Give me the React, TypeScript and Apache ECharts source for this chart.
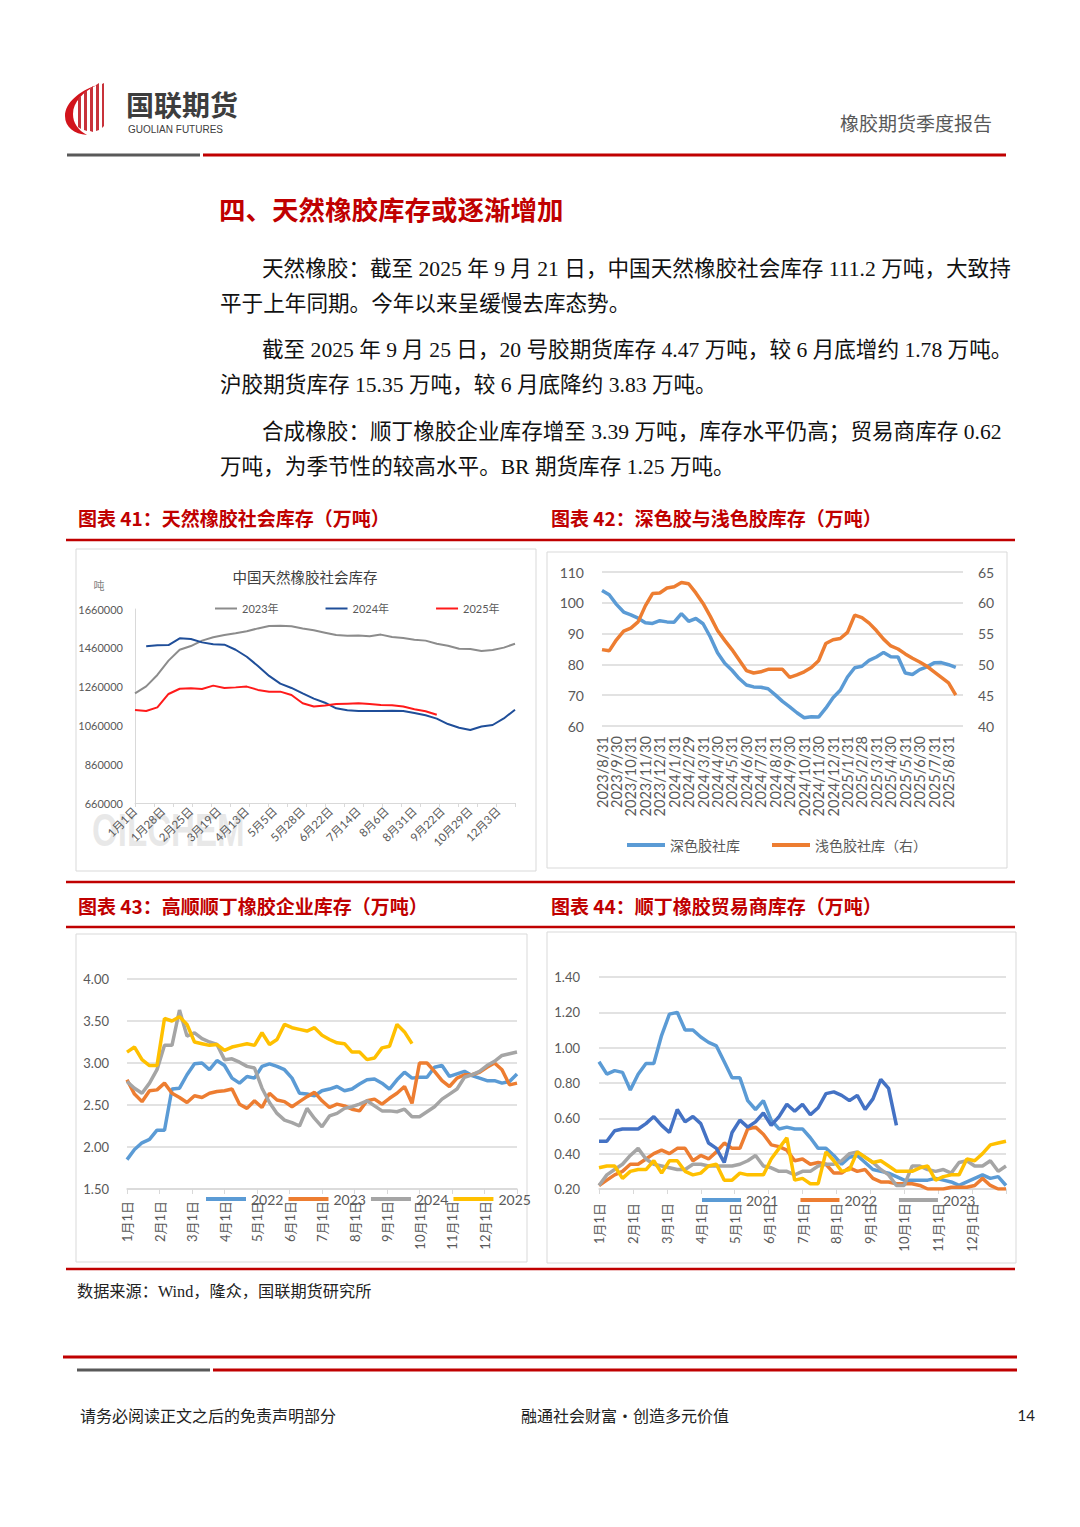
import React, { useEffect, useRef } from 'react';
import * as echarts from 'echarts';

// ---------- Chart 41: 中国天然橡胶社会库存 (吨), x index step 2 ----------
const labels41 = ['1月1日', '1月28日', '2月25日', '3月19日', '4月13日', '5月5日', '5月28日', '6月22日', '7月14日', '8月6日', '8月31日', '9月22日', '10月29日', '12月3日'];
const stock2023 = [1225000, 1261000, 1320000, 1394000, 1450000, 1469000, 1497000, 1514000, 1526000, 1535000, 1545000, 1560000, 1572000, 1574000, 1571000, 1559000, 1550000, 1538000, 1526000, 1522000, 1524000, 1519000, 1528000, 1516000, 1510000, 1502000, 1497000, 1481000, 1471000, 1455000, 1454000, 1443000, 1449000, 1461000, 1481000];
const stock2024 = [null, 1468000, 1473000, 1474000, 1509000, 1505000, 1488000, 1478000, 1476000, 1450000, 1414000, 1366000, 1315000, 1275000, 1253000, 1225000, 1198000, 1177000, 1148000, 1138000, 1134000, 1134000, 1134000, 1135000, 1134000, 1124000, 1112000, 1095000, 1067000, 1048000, 1036000, 1054000, 1062000, 1096000, 1141000];
const stock2025 = [1139000, 1134000, 1153000, 1222000, 1249000, 1251000, 1248000, 1265000, 1253000, 1256000, 1260000, 1243000, 1234000, 1234000, 1217000, 1174000, 1157000, 1162000, 1170000, 1172000, 1174000, 1170000, 1165000, 1164000, 1157000, 1143000, 1133000, 1115000];

// ---------- Chart 42: 深色胶 / 浅色胶 (half-month steps) ----------
const labels42 = ['2023/8/31', '2023/9/30', '2023/10/31', '2023/11/30', '2023/12/31', '2024/1/31', '2024/2/29', '2024/3/31', '2024/4/30', '2024/5/31', '2024/6/30', '2024/7/31', '2024/8/31', '2024/9/30', '2024/10/31', '2024/11/30', '2024/12/31', '2025/1/31', '2025/2/28', '2025/3/31', '2025/4/30', '2025/5/31', '2025/6/30', '2025/7/31', '2025/8/31'];
const darkStock = [104.0, 102.6, 99.5, 97.0, 96.1, 95.0, 93.5, 93.3, 94.2, 93.8, 93.7, 96.5, 94.0, 94.9, 93.2, 88.9, 83.8, 80.4, 78.1, 75.4, 73.3, 72.7, 72.6, 72.1, 70.1, 68.0, 66.2, 64.3, 62.7, 63.0, 62.9, 65.8, 69.2, 71.6, 75.9, 78.9, 79.4, 81.3, 82.4, 83.9, 82.5, 82.4, 77.2, 76.7, 78.3, 79.2, 80.5, 80.6, 79.9, 79.0];
const lightStock = [52.4, 52.2, 54.0, 55.4, 55.9, 56.9, 59.5, 61.5, 61.6, 62.4, 62.6, 63.3, 63.1, 61.6, 59.9, 57.8, 55.5, 53.9, 52.4, 50.7, 49.0, 48.6, 48.8, 49.2, 49.2, 49.2, 47.9, 48.3, 48.8, 49.5, 50.6, 53.4, 54.0, 54.2, 55.2, 58.0, 57.6, 56.7, 55.5, 54.1, 53.0, 52.5, 51.7, 51.0, 50.4, 49.7, 48.8, 47.9, 47.0, 45.0];

// ---------- shared month ticks for charts 43 / 44 ----------
const monthLabels = ['1月1日', '2月1日', '3月1日', '4月1日', '5月1日', '6月1日', '7月1日', '8月1日', '9月1日', '10月1日', '11月1日', '12月1日', ''];

// ---------- Chart 43: 高顺顺丁橡胶企业库存 (weekly) ----------
const br2022 = [1.85, 1.97, 2.05, 2.09, 2.20, 2.20, 2.69, 2.70, 2.86, 2.99, 3.00, 2.92, 3.03, 2.97, 2.82, 2.76, 2.84, 2.82, 2.96, 2.99, 2.96, 2.92, 2.82, 2.64, 2.63, 2.61, 2.67, 2.69, 2.72, 2.67, 2.69, 2.75, 2.80, 2.81, 2.76, 2.69, 2.80, 2.89, 2.82, 2.83, 2.83, 2.95, 2.97, 2.84, 2.87, 2.90, 2.85, 2.82, 2.79, 2.79, 2.76, 2.78, 2.87];
const br2023 = [2.80, 2.63, 2.54, 2.67, 2.68, 2.76, 2.64, 2.59, 2.53, 2.61, 2.59, 2.64, 2.66, 2.67, 2.69, 2.51, 2.46, 2.55, 2.47, 2.64, 2.56, 2.54, 2.48, 2.54, 2.60, 2.65, 2.55, 2.47, 2.51, 2.49, 2.45, 2.43, 2.55, 2.57, 2.51, 2.58, 2.64, 2.72, 2.52, 3.00, 3.00, 2.90, 2.79, 2.72, 2.82, 2.86, 2.86, 2.89, 2.95, 3.00, 2.92, 2.74, 2.76];
const br2024 = [2.78, 2.70, 2.64, 2.76, 2.92, 3.21, 3.21, 3.63, 3.32, 3.36, 3.29, 3.25, 3.22, 3.04, 3.05, 3.01, 2.96, 2.94, 2.70, 2.53, 2.40, 2.32, 2.29, 2.25, 2.46, 2.34, 2.24, 2.37, 2.40, 2.46, 2.48, 2.51, 2.55, 2.49, 2.43, 2.43, 2.42, 2.45, 2.36, 2.36, 2.42, 2.48, 2.57, 2.63, 2.69, 2.83, 2.86, 2.90, 2.97, 3.02, 3.09, 3.11, 3.13];
const br2025 = [3.13, 3.19, 3.04, 2.97, 2.97, 3.53, 3.50, 3.55, 3.46, 3.25, 3.23, 3.21, 3.22, 3.15, 3.19, 3.21, 3.23, 3.21, 3.36, 3.22, 3.28, 3.46, 3.42, 3.40, 3.38, 3.42, 3.33, 3.28, 3.24, 3.23, 3.13, 3.13, 3.04, 3.06, 3.18, 3.20, 3.46, 3.37, 3.23];

// ---------- Chart 44: 顺丁橡胶贸易商库存 (weekly) ----------
const tr2021 = [0.92, 0.85, 0.87, 0.86, 0.76, 0.85, 0.91, 0.91, 1.07, 1.19, 1.20, 1.10, 1.10, 1.06, 1.03, 1.01, 0.92, 0.83, 0.83, 0.70, 0.65, 0.70, 0.59, 0.54, 0.55, 0.54, 0.54, 0.49, 0.43, 0.43, 0.39, 0.34, 0.38, 0.39, 0.35, 0.31, 0.30, 0.29, 0.27, 0.25, 0.25, 0.25, 0.25, 0.26, 0.25, 0.24, 0.22, 0.24, 0.26, 0.28, 0.26, 0.27, 0.22];
const tr2022 = [0.22, 0.25, 0.28, 0.30, 0.34, 0.34, 0.37, 0.40, 0.42, 0.40, 0.43, 0.43, 0.36, 0.39, 0.37, 0.41, 0.46, 0.43, 0.43, 0.54, 0.55, 0.51, 0.45, 0.44, 0.42, 0.36, 0.37, 0.34, 0.35, 0.34, 0.29, 0.29, 0.32, 0.30, 0.31, 0.26, 0.24, 0.24, 0.23, 0.23, 0.23, 0.22, 0.20, 0.20, 0.20, 0.21, 0.21, 0.21, 0.22, 0.26, 0.22, 0.20, 0.20];
const tr2023 = [0.22, 0.28, 0.31, 0.34, 0.39, 0.43, 0.37, 0.34, 0.33, 0.32, 0.31, 0.31, 0.34, 0.34, 0.33, 0.33, 0.33, 0.33, 0.34, 0.36, 0.39, 0.33, 0.32, 0.30, 0.30, 0.28, 0.30, 0.30, 0.33, 0.34, 0.34, 0.36, 0.40, 0.41, 0.38, 0.35, 0.31, 0.28, 0.22, 0.22, 0.33, 0.33, 0.31, 0.30, 0.31, 0.29, 0.35, 0.36, 0.33, 0.33, 0.36, 0.30, 0.33];
const tr2024 = [0.32, 0.33, 0.33, 0.26, 0.30, 0.31, 0.31, 0.36, 0.29, 0.36, 0.36, 0.30, 0.28, 0.29, 0.33, 0.34, 0.25, 0.25, 0.29, 0.28, 0.28, 0.28, 0.37, 0.43, 0.49, 0.25, 0.26, 0.23, 0.23, 0.41, 0.36, 0.30, 0.31, 0.41, 0.38, 0.35, 0.36, 0.33, 0.30, 0.30, 0.30, 0.32, 0.33, 0.25, 0.27, 0.28, 0.28, 0.37, 0.36, 0.40, 0.45, 0.46, 0.47];
const tr2025 = [0.47, 0.47, 0.53, 0.54, 0.54, 0.54, 0.57, 0.61, 0.56, 0.52, 0.65, 0.58, 0.61, 0.57, 0.46, 0.43, 0.35, 0.52, 0.59, 0.55, 0.58, 0.63, 0.56, 0.61, 0.68, 0.64, 0.68, 0.62, 0.66, 0.74, 0.75, 0.73, 0.70, 0.73, 0.65, 0.71, 0.82, 0.77, 0.56];

// ---------- page text ----------
const paraLines = [
  { t: '天然橡胶：截至 2025 年 9 月 21 日，中国天然橡胶社会库存 111.2 万吨，大致持', x: 262, y: 269 },
  { t: '平于上年同期。今年以来呈缓慢去库态势。', x: 220, y: 304 },
  { t: '截至 2025 年 9 月 25 日，20 号胶期货库存 4.47 万吨，较 6 月底增约 1.78 万吨。', x: 262, y: 350 },
  { t: '沪胶期货库存 15.35 万吨，较 6 月底降约 3.83 万吨。', x: 220, y: 385 },
  { t: '合成橡胶：顺丁橡胶企业库存增至 3.39 万吨，库存水平仍高；贸易商库存 0.62', x: 262, y: 432 },
  { t: '万吨，为季节性的较高水平。BR 期货库存 1.25 万吨。', x: 220, y: 467 },
];

const CJK = "'Noto Sans CJK SC', sans-serif";
const SERIF = "'Liberation Serif', 'Noto Sans CJK SC', serif";
const NUM = "Lato, 'Noto Sans CJK SC', sans-serif";
const RED = '#C00000';
const GRID = '#d9d9d9';
const LBL = '#595959';

echarts.graphic.registerShape(
  'glLogoC',
  echarts.graphic.extendPath('M34 2 C16 8 2 20 2 33 C2 44 11 51 24 52 C15 47 10 40 10 31 C10 19 20 9 34 2 Z', {})
);
echarts.graphic.registerShape(
  'glLogoB',
  echarts.graphic.extendPath('M15 16 L18 13 L18 46 L15 44 Z M21 10 L24 7 L24 48 L21 47 Z M27 6 L30 3 L30 49 L27 48 Z M33 2 L36 0 L36 47 L33 48 Z M39 1 L41 0 L41 43 L39 45 Z', {})
);

function pairs(vals: (number | null)[], step: number) {
  return vals.map((v, i) => (v == null ? null : [i * step, v])).filter((p) => p !== null);
}

function txt(text: string, x: number, y: number, o: any = {}) {
  return {
    type: 'text',
    silent: true,
    style: {
      text, x, y,
      fontSize: o.size || 14,
      fontWeight: o.bold ? 'bold' : 'normal',
      fontFamily: o.font || CJK,
      fill: o.color || '#1a1a1a',
      align: o.align || 'left',
      verticalAlign: 'middle',
    },
  };
}
function hline(x1: number, x2: number, y: number, color: string, w: number) {
  return { type: 'line', silent: true, shape: { x1, y1: y, x2, y2: y }, style: { stroke: color, lineWidth: w } };
}
function box(x: number, y: number, w: number, h: number) {
  return { type: 'rect', silent: true, shape: { x, y, width: w, height: h }, style: { fill: 'none', stroke: GRID, lineWidth: 1 } };
}

const stripName = (n: string) => n.split('|').pop() as string;

function lineSeries(name: string, data: any[], color: string, xi: number, yi: number, w: number) {
  return {
    type: 'line', name, data, color, xAxisIndex: xi, yAxisIndex: yi,
    symbol: 'none', showSymbol: false, smooth: false,
    lineStyle: { width: w, color }, emphasis: { disabled: true }, silent: true,
  };
}

const monthAxis = (gi: number, margin: number) => ({
  type: 'category', gridIndex: gi, data: monthLabels, boundaryGap: false, position: 'bottom',
  axisLine: { show: true, lineStyle: { color: GRID, width: 1.5 } },
  axisTick: { show: true, length: 5, interval: 0, lineStyle: { color: GRID } },
  axisLabel: { interval: 0, rotate: 90, fontSize: 13, color: LBL, fontFamily: NUM, margin },
  splitLine: { show: false },
});

const option: any = {
  animation: false,
  backgroundColor: '#fff',
  textStyle: { fontFamily: NUM },
  grid: [
    { left: 135, top: 609, width: 380, height: 194 },
    { left: 602, top: 572, width: 361, height: 154 },
    { left: 127, top: 979, width: 390, height: 210 },
    { left: 599, top: 977, width: 407, height: 212 },
  ],
  legend: [
    { data: ['2023年', '2024年', '2025年'], left: 210, top: 598, icon: 'rect', itemWidth: 22, itemHeight: 2, itemGap: 47, selectedMode: false, textStyle: { fontSize: 11, color: LBL, fontFamily: NUM } },
    { data: ['深色胶社库', '浅色胶社库（右）'], left: 622, top: 833, icon: 'rect', itemWidth: 38, itemHeight: 4, itemGap: 32, selectedMode: false, textStyle: { fontSize: 14, color: LBL, fontFamily: CJK } },
    { data: ['c43|2022', 'c43|2023', 'c43|2024', 'c43|2025'], formatter: stripName, left: 201, top: 1187, icon: 'rect', itemWidth: 40, itemHeight: 4, itemGap: 5, selectedMode: false, textStyle: { fontSize: 14, color: LBL, fontFamily: NUM } },
    { data: ['c44|2021', 'c44|2022', 'c44|2023'], formatter: stripName, left: 697, top: 1188, icon: 'rect', itemWidth: 39, itemHeight: 4, itemGap: 22, selectedMode: false, textStyle: { fontSize: 14, color: LBL, fontFamily: NUM } },
  ],
  xAxis: [
    {
      type: 'value', gridIndex: 0, min: 0, max: 68, interval: 5, position: 'bottom',
      axisLine: { show: true, lineStyle: { color: GRID } }, axisTick: { show: false }, splitLine: { show: false },
      axisLabel: { rotate: 45, fontSize: 11.5, color: LBL, fontFamily: NUM, margin: 6, formatter: (v: number) => (v % 5 === 0 && labels41[v / 5]) || '' },
    },
    {
      type: 'value', gridIndex: 0, min: 0, max: 68, interval: 3.4, position: 'bottom',
      axisLine: { show: false }, axisTick: { show: true, length: 4, lineStyle: { color: GRID } }, axisLabel: { show: false }, splitLine: { show: false },
    },
    {
      type: 'value', gridIndex: 1, min: 0, max: 25, interval: 1, position: 'bottom',
      axisLine: { show: false }, axisTick: { show: false }, splitLine: { show: false },
      axisLabel: { rotate: 90, fontSize: 14.5, color: LBL, fontFamily: NUM, margin: 10, formatter: (v: number) => labels42[v] ?? '' },
    },
    { type: 'value', gridIndex: 2, min: 0, max: 52, show: false },
    monthAxis(2, 12),
    { type: 'value', gridIndex: 3, min: 0, max: 52, show: false },
    monthAxis(3, 14),
  ],
  yAxis: [
    {
      type: 'value', gridIndex: 0, min: 660000, max: 1660000, interval: 200000,
      axisLine: { show: true, lineStyle: { color: GRID } }, axisTick: { show: false }, splitLine: { show: false },
      axisLabel: { fontSize: 11, color: LBL, fontFamily: NUM, margin: 12, formatter: (v: number) => String(Math.round(v)) },
    },
    {
      type: 'value', gridIndex: 1, min: 60, max: 110, interval: 10,
      axisLine: { show: false }, axisTick: { show: false }, splitLine: { show: true, lineStyle: { color: GRID, width: 1.5 } },
      axisLabel: { fontSize: 14, color: LBL, fontFamily: NUM, margin: 18 },
    },
    {
      type: 'value', gridIndex: 1, position: 'right', min: 40, max: 65, interval: 5,
      axisLine: { show: false }, axisTick: { show: false }, splitLine: { show: false },
      axisLabel: { fontSize: 14, color: LBL, fontFamily: NUM, margin: 15 },
    },
    {
      type: 'value', gridIndex: 2, min: 1.5, max: 4, interval: 0.5,
      axisLine: { show: false }, axisTick: { show: false }, splitLine: { show: true, lineStyle: { color: GRID, width: 1.5 } },
      axisLabel: { fontSize: 13, color: LBL, fontFamily: NUM, margin: 18, formatter: (v: number) => v.toFixed(2) },
    },
    {
      type: 'value', gridIndex: 3, min: 0.2, max: 1.4, interval: 0.2,
      axisLine: { show: false }, axisTick: { show: false }, splitLine: { show: true, lineStyle: { color: GRID, width: 1.5 } },
      axisLabel: { fontSize: 13, color: LBL, fontFamily: NUM, margin: 19, formatter: (v: number) => v.toFixed(2) },
    },
  ],
  series: [
    lineSeries('2023年', pairs(stock2023, 2), '#8c8c8c', 0, 0, 2),
    lineSeries('2024年', pairs(stock2024, 2), '#1f4e99', 0, 0, 2),
    lineSeries('2025年', pairs(stock2025, 2), '#ff1a1a', 0, 0, 2),

    lineSeries('深色胶社库', pairs(darkStock, 0.5), '#5B9BD5', 2, 1, 3.5),
    lineSeries('浅色胶社库（右）', pairs(lightStock, 0.5), '#ED7D31', 2, 2, 3.5),

    lineSeries('c43|2022', pairs(br2022, 1), '#5B9BD5', 3, 3, 3.5),
    lineSeries('c43|2023', pairs(br2023, 1), '#ED7D31', 3, 3, 3.5),
    lineSeries('c43|2024', pairs(br2024, 1), '#A5A5A5', 3, 3, 3.5),
    lineSeries('c43|2025', pairs(br2025, 1), '#FFC000', 3, 3, 3.5),

    lineSeries('c44|2021', pairs(tr2021, 1), '#5B9BD5', 5, 4, 3.5),
    lineSeries('c44|2022', pairs(tr2022, 1), '#ED7D31', 5, 4, 3.5),
    lineSeries('c44|2023', pairs(tr2023, 1), '#A5A5A5', 5, 4, 3.5),
    lineSeries('c44|2024', pairs(tr2024, 1), '#FFC000', 5, 4, 3.5),
    lineSeries('c44|2025', pairs(tr2025, 1), '#4472C4', 5, 4, 3.5),
  ],
  graphic: {
    elements: [
      // header
      { type: 'glLogoC', x: 63, y: 83, silent: true, style: { fill: '#d2141c' } },
      { type: 'glLogoB', x: 63, y: 83, silent: true, style: { fill: '#c8323a' } },
      txt('国联期货', 126, 104, { size: 28, bold: true, color: '#3d3d3d' }),
      txt('GUOLIAN FUTURES', 128, 129, { size: 10, color: '#3d3d3d', font: "'Liberation Sans', sans-serif" }),
      txt('橡胶期货季度报告', 992, 122, { size: 19, color: LBL, align: 'right' }),
      hline(67, 200, 155, '#595959', 3),
      hline(203, 1006, 155, RED, 3),

      // section
      txt('四、天然橡胶库存或逐渐增加', 219, 208, { size: 26.5, bold: true, color: RED }),
      ...paraLines.map((l) => txt(l.t, l.x, l.y, { size: 21.6, font: SERIF, color: '#111' })),

      // captions & rules
      txt('图表 41：天然橡胶社会库存（万吨）', 78, 517, { size: 19, bold: true, color: RED }),
      txt('图表 42：深色胶与浅色胶库存（万吨）', 551, 517, { size: 19, bold: true, color: RED }),
      hline(66, 1015, 540, RED, 2.5),
      hline(66, 1015, 882, RED, 2.5),
      txt('图表 43：高顺顺丁橡胶企业库存（万吨）', 78, 905, { size: 19, bold: true, color: RED }),
      txt('图表 44：顺丁橡胶贸易商库存（万吨）', 551, 905, { size: 19, bold: true, color: RED }),
      hline(66, 1015, 927, RED, 2.5),
      hline(66, 1015, 1269, RED, 2.5),

      // chart frames
      box(76, 549, 460, 322),
      box(547, 552, 460, 316),
      box(76, 934, 451, 328),
      box(547, 932, 469, 331),

      // chart 41 decorations
      {
        type: 'text', x: 92, y: 830, scaleX: 0.72, silent: true, z: -1,
        style: { text: 'OILCHEM', x: 0, y: 0, fontSize: 46, fontWeight: 'bold', fontFamily: "'Liberation Sans', sans-serif", fill: 'rgba(190,190,190,0.35)', verticalAlign: 'middle' },
      },
      txt('中国天然橡胶社会库存', 305, 576, { size: 14.5, color: '#404040', align: 'center' }),
      txt('吨', 99, 585, { size: 11, color: '#808080', align: 'center' }),

      // source & footer
      txt('数据来源：Wind，隆众，国联期货研究所', 77, 1292, { size: 16.2, font: SERIF, color: '#222' }),
      hline(63, 1017, 1357, RED, 3),
      hline(77, 210, 1370, '#595959', 3),
      hline(213, 1017, 1370, RED, 3),
      txt('请务必阅读正文之后的免责声明部分', 80, 1415, { size: 16, color: '#222' }),
      txt('融通社会财富·创造多元价值', 625, 1415, { size: 16, color: '#222', align: 'center' }),
      txt('14', 1035, 1415, { size: 15, color: '#222', align: 'right', font: NUM }),
    ],
  },
};

export default function App() {
  const ref = useRef<HTMLDivElement>(null);
  useEffect(() => {
    if (!ref.current) return;
    const chart = echarts.init(ref.current, null, { renderer: 'svg' });
    chart.setOption(option);
    return () => chart.dispose();
  }, []);
  return <div ref={ref} style={{ position: 'absolute', left: 0, top: 0, width: 1080, height: 1527, background: '#fff' }} />;
}
